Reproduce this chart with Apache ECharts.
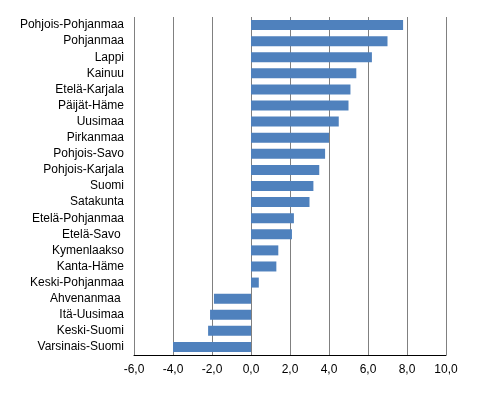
<!DOCTYPE html>
<html lang="fi">
<head>
    <meta charset="UTF-8">
    <title>Maakunnat</title>
    <script src="https://cdn.jsdelivr.net/npm/echarts@6/dist/echarts.min.js"></script>
    <style>
        html, body { margin: 0; padding: 0; background: #fff; }
    </style>
</head>
<body>
<div id="main" style="width: 487px;height:413px;"></div>
<script type="text/javascript">
    // alueet ylhäältä alas
    var regions = ['Pohjois-Pohjanmaa', 'Pohjanmaa', 'Lappi', 'Kainuu', 'Etelä-Karjala', 'Päijät-Häme',
        'Uusimaa', 'Pirkanmaa', 'Pohjois-Savo', 'Pohjois-Karjala', 'Suomi', 'Satakunta',
        'Etelä-Pohjanmaa', 'Etelä-Savo ', 'Kymenlaakso', 'Kanta-Häme', 'Keski-Pohjanmaa',
        'Ahvenanmaa ', 'Itä-Uusimaa', 'Keski-Suomi', 'Varsinais-Suomi'];
    var values = [7.8, 7.0, 6.2, 5.4, 5.1, 5.0, 4.5, 4.0, 3.8, 3.5, 3.2, 3.0,
        2.2, 2.1, 1.4, 1.3, 0.4, -1.9, -2.1, -2.2, -4.0];
    var xTicks = [-6, -4, -2, 0, 2, 4, 6, 8, 10];

    var myChart = echarts.init(document.getElementById('main'));
    myChart.setOption({
        animation: false,
        grid: { left: 134, right: 41, top: 17, bottom: 58 },
        xAxis: {
            type: 'value',
            min: xTicks[0],
            max: xTicks[xTicks.length - 1],
            interval: 2,
            axisLine: { show: true, onZero: false, lineStyle: { color: '#000', width: 1 } },
            axisTick: { show: false },
            axisLabel: {
                color: '#000', fontFamily: 'Liberation Sans', fontSize: 12, margin: 9,
                formatter: function (v) { return v.toFixed(1).replace('.', ','); }
            },
            splitLine: { show: true, lineStyle: { color: '#808080', width: 1 } }
        },
        yAxis: {
            type: 'category',
            inverse: true,
            data: regions,
            axisLine: { show: false },
            axisTick: { show: false },
            axisLabel: { color: '#000', fontFamily: 'Liberation Sans', fontSize: 12, margin: 10 }
        },
        series: [{
            type: 'bar',
            data: values,
            barWidth: 10,
            itemStyle: { color: '#4F81BD' }
        }]
    });
</script>
</body>
</html>
